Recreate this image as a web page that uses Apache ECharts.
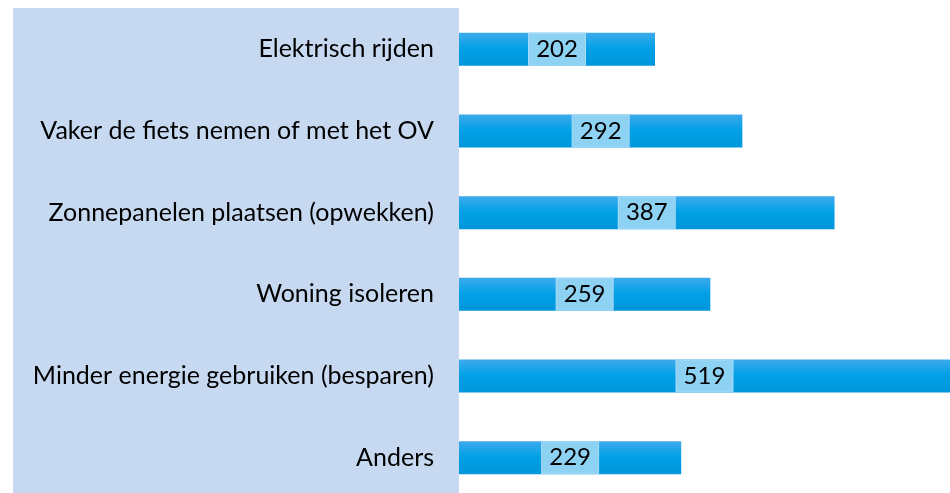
<!DOCTYPE html>
<html><head><meta charset="utf-8">
<script src="https://cdn.jsdelivr.net/npm/echarts@6/dist/echarts.min.js"></script>
<style>html,body{margin:0;padding:0;background:#fff}#c{width:950px;height:493px}</style>
</head><body><div id="c"></div>
<script>
const categories = ["Elektrisch rijden","Vaker de fiets nemen of met het OV","Zonnepanelen plaatsen (opwekken)","Woning isoleren","Minder energie gebruiken (besparen)","Anders"];
const values = [202, 292, 387, 259, 519, 229];

const chart = echarts.init(document.getElementById('c'));
const font = 'Lato, "Open Sans", sans-serif';
chart.setOption({
  animation: false,
  graphic: [{type:'rect', z:-10, shape:{x:13,y:8,width:446,height:490}, style:{fill:'#C6D9F1'}}],
  grid: {left: 459, width: 491, top: 8.5, height: 490, containLabel: false, outerBoundsMode: 'none'},
  xAxis: {type:'value', min:0, max:506, show:false},
  yAxis: {type:'category', data:categories, inverse:true,
    axisLine:{show:false}, axisTick:{show:false}, splitLine:{show:false},
    axisLabel:{margin:25, fontSize:25, color:'#000', fontFamily:font}},
  series: [{type:'bar', data:values, barWidth:33, clip:true,
    itemStyle:{color:new echarts.graphic.LinearGradient(0,0,0,1,[{offset:0,color:'#3DAAEC'},{offset:0.5,color:'#00A0E6'},{offset:1,color:'#0096DB'}])},
    label:{show:true, position:'inside', fontSize:24, color:'#000', fontFamily:font,
      backgroundColor:'#8DD1F3', borderColor:'#A6DBF6', borderWidth:1, width:56, height:31, lineHeight:31, align:'center', verticalAlign:'middle'}
  }]
});
</script></body></html>
